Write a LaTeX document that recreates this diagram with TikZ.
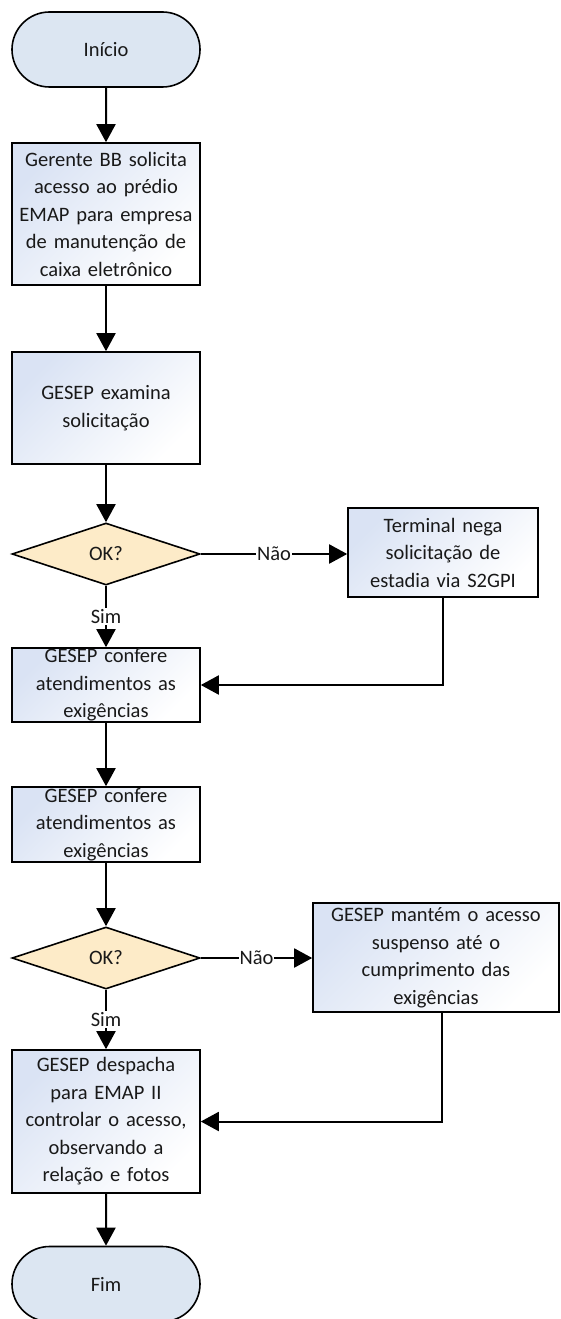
\documentclass[tikz,border=0pt]{standalone}
\usepackage{fontspec}
\setmainfont{Carlito}
\usetikzlibrary{shapes.geometric,shapes.misc,arrows.meta}
\definecolor{termfill}{RGB}{220,230,242}
\definecolor{decfill}{RGB}{253,235,200}
\definecolor{boxblue}{RGB}{218,227,244}
\begin{document}
\begin{tikzpicture}[x=1pt,y=-1pt,
  every node/.style={font=\fontsize{20.5}{27.5}\selectfont, text=black!90},
  term/.style={draw, line width=1.6pt, rounded rectangle, fill=termfill, minimum width=188pt, minimum height=75pt, inner sep=0pt},
  proc/.style={draw, line width=1.6pt, rectangle, top color=boxblue, bottom color=white, shading angle=45, align=center, inner sep=0pt, text width=184pt},
  dec/.style={draw, line width=1.6pt, diamond, fill=decfill, minimum width=188pt, minimum height=62pt, inner sep=0pt},
  conn/.style={line width=2pt, -{Triangle[length=18pt,width=19pt]}},
  lbl/.style={fill=white, inner sep=1pt}
]
\useasboundingbox (0,0) rectangle (561,1319);
\node[term] (start) at (106,49.5) {Início};
\node[proc, minimum width=188pt, minimum height=142pt] (b1) at (106,214) {Gerente BB solicita\\acesso ao prédio\\EMAP para empresa\\de manutenção de\\caixa eletrônico};
\node[proc, minimum width=188pt, minimum height=112pt] (b2) at (106,408) {GESEP examina\\solicitação};
\node[dec] (d1) at (106,554) {OK?};
\node[proc, minimum width=190pt, minimum height=89pt] (r1) at (443,552.5) {Terminal nega\\solicitação de\\estadia via S2GPI};
\node[proc, minimum width=188pt, minimum height=74pt] (b3) at (106,685) {GESEP confere\\atendimentos as\\exigências};
\node[proc, minimum width=188pt, minimum height=75pt] (b4) at (106,824.5) {GESEP confere\\atendimentos as\\exigências};
\node[dec] (d2) at (106,958) {OK?};
\node[proc, minimum width=246pt, minimum height=109pt, text width=240pt] (r2) at (436,957.5) {GESEP mantém o acesso\\suspenso até o\\cumprimento das\\exigências};
\node[proc, minimum width=188pt, minimum height=143pt] (b5) at (106,1121.5) {GESEP despacha\\para EMAP II\\controlar o acesso,\\observando a\\relação e fotos};
\node[term] (end) at (106,1284) {Fim};

\draw[conn] (start) -- (b1);
\draw[conn] (b1) -- (b2);
\draw[conn] (b2) -- (d1);
\draw[conn] (d1.east) -- node[lbl]{Não} (d1.east -| r1.west);
\draw[conn] (d1.south) -- node[lbl]{Sim} (b3.north);
\draw[conn] (r1.south) |- (b3.east);
\draw[conn] (b3) -- (b4);
\draw[conn] (b4) -- (d2);
\draw[conn] (d2.east) -- node[lbl]{Não} (d2.east -| r2.west);
\draw[conn] (d2.south) -- node[lbl]{Sim} (b5.north);
\draw[conn] ([xshift=6pt]r2.south) |- (b5.east);
\draw[conn] (b5) -- (end);
\end{tikzpicture}
\end{document}
